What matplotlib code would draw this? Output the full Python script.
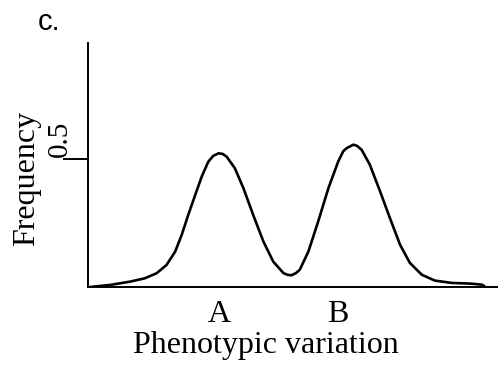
import matplotlib
matplotlib.use("Agg")
import matplotlib.pyplot as plt

# curve (phenotype units, frequency)
pheno_x = [0.05, 0.54, 1.03, 1.39, 1.68, 1.92, 2.13, 2.29, 2.45, 2.62,
           2.78, 2.94, 3.06, 3.19, 3.29, 3.39, 3.59, 3.80, 4.04, 4.29,
           4.53, 4.78, 4.89, 4.98, 5.09, 5.18, 5.39, 5.63, 5.88, 6.12,
           6.24, 6.33, 6.49, 6.58, 6.69, 6.89, 7.14, 7.38, 7.63, 7.87,
           8.16, 8.48, 8.89, 9.38, 9.63, 9.69]
freq_y = [0.000, 0.008, 0.021, 0.034, 0.054, 0.086, 0.138, 0.203, 0.281, 0.359,
          0.431, 0.489, 0.512, 0.522, 0.520, 0.509, 0.464, 0.386, 0.281, 0.177,
          0.099, 0.054, 0.047, 0.046, 0.055, 0.068, 0.139, 0.257, 0.387, 0.491,
          0.530, 0.543, 0.556, 0.551, 0.536, 0.478, 0.374, 0.270, 0.165, 0.094,
          0.048, 0.025, 0.016, 0.013, 0.009, 0.004]

xtick_pos = [3.2, 6.11]
xtick_labels = ['A', 'B']
ytick_pos = [0.5]
ytick_labels = ['0.5']

W, H = 498, 366
fig = plt.figure(figsize=(W / 100, H / 100), dpi=100)
ax = fig.add_axes([88 / W, (H - 287) / H, 409 / W, (287 - 43) / H])

ax.plot(pheno_x, freq_y, color='black', lw=1.9,
        solid_joinstyle='round', solid_capstyle='round')

ax.set_xlim(0, 10)
ax.set_ylim(0, 0.953)
for s in ['top', 'right']:
    ax.spines[s].set_visible(False)
for s in ['left', 'bottom']:
    ax.spines[s].set_linewidth(1.4)

serif = ['Liberation Serif', 'DejaVu Serif']

ax.set_xticks(xtick_pos)
ax.set_xticklabels(xtick_labels, fontsize=23, family=serif)
ax.tick_params(axis='x', length=0, pad=9)

ax.set_yticks(ytick_pos)
ax.set_yticklabels([''] * len(ytick_pos))
ax.tick_params(axis='y', length=18, width=1.4, direction='out')
for v, lab in zip(ytick_pos, ytick_labels):
    ax.annotate(lab, xy=(0, v), xycoords=('axes fraction', 'data'),
                xytext=(-20.2, 14.4), textcoords='offset points',
                rotation=90, ha='center', va='center', fontsize=21, family=serif)

fig.text(27 / W, 1 - 178 / H, 'Frequency', rotation=90, ha='center', va='center',
         fontsize=23, family=serif)
fig.text(266 / W, 1 - 345 / H, 'Phenotypic variation', ha='center', va='center',
         fontsize=23, family=serif)
fig.text(38 / W, 1 - 30 / H, 'c.', ha='left', va='baseline',
         fontsize=21, family=['Liberation Sans', 'DejaVu Sans'])

fig.savefig('out.png', dpi=100)
